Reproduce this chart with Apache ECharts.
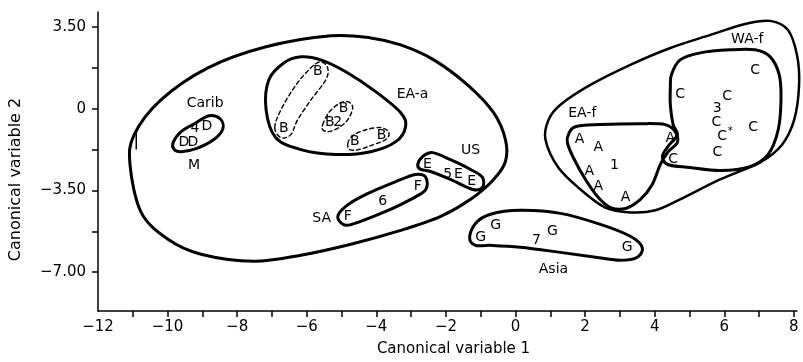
<!DOCTYPE html>
<html><head><meta charset="utf-8">
<script src="https://cdn.jsdelivr.net/npm/echarts@6/dist/echarts.min.js"></script>
<style>html,body{margin:0;padding:0;background:#fff}#c{width:803px;height:362px}</style>
</head><body><div id="c"></div>
<script>
// ---- tick values ----
const xTickValues = [-11,-10,-9,-8,-7,-6,-5,-4,-3,-2,-1,0,1,2,3,4,5,6,7,8];
const xLabelValues = [-12,-10,-8,-6,-4,-2,0,2,4,6,8];
const yTickValues = [3.5,1.75,0,-1.75,-3.5,-5.25,-7];
const yLabelValues = [3.5,0,-3.5,-7];
const yLabelText = {"3.5":"3.50","0":"0","-3.5":"\u22123.50","-7":"\u22127.00"};

// ---- observations (letters) ----
const pointsA = [[1.84,-1.32],[2.38,-1.66],[2.12,-2.69],[2.38,-3.33],[3.16,-3.80],[4.45,-1.28]];
const pointsB = [[-5.68,1.58],[-6.66,-0.85],[-4.94,0.00],[-5.34,-0.60],[-4.62,-1.41],[-3.85,-1.15]];
const pointsC = [[6.89,1.66],[4.73,0.60],[6.08,0.55],[5.77,-0.60],[5.94,-1.20],[6.83,-0.81],[5.80,-1.88],[4.53,-2.18]];
const pointsD = [[-8.87,-0.77],[-9.53,-1.45],[-9.27,-1.45]];
const pointsE = [[-2.53,-2.39],[-1.64,-2.82],[-1.26,-3.12]];
const pointsF = [[-2.81,-3.33],[-4.82,-4.61]];
const pointsG = [[-1.00,-5.51],[-0.57,-4.99],[1.06,-5.25],[3.21,-5.93]];
const asterisk = [[6.17,-0.98]];

// ---- group means (numbers) ----
const centroids = [[2.84,-2.43,'1'],[-5.11,-0.60,'2'],[5.80,0.00,'3'],[-9.21,-0.85,'4'],[-1.95,-2.82,'5'],[-3.82,-3.97,'6'],[0.60,-5.63,'7']];

// ---- group names ----
const groupNames = [[-8.92,0.21,'Carib'],[-9.24,-2.43,'M'],[-2.96,0.60,'EA-a'],[-1.29,-1.79,'US'],[-5.57,-4.69,'SA'],[1.09,-6.87,'Asia'],[1.92,-0.21,'EA-f'],[6.66,2.99,'WA-f']];

// ---- enclosing outlines (data units) ----
const outlineBig = [[-11.08,-2.39],[-10.96,-1.11],[-10.19,0.38],[-8.84,1.75],[-7.17,2.65],[-5.31,3.12],[-4.16,3.03],[-3.30,2.73],[-2.35,2.09],[-1.38,1.02],[-0.63,-0.17],[-0.29,-1.32],[-0.29,-2.26],[-0.63,-3.03],[-1.29,-3.88],[-2.15,-4.61],[-3.30,-5.21],[-4.73,-5.80],[-6.17,-6.27],[-7.52,-6.53],[-9.04,-6.23],[-9.99,-5.59],[-10.76,-4.44]];
const outlineCarib = [[-9.84,-1.45],[-9.61,-0.98],[-9.18,-0.60],[-8.81,-0.30],[-8.49,-0.43],[-8.41,-0.85],[-8.67,-1.32],[-9.18,-1.71],[-9.61,-1.84],[-9.81,-1.75]];
const outlineEAa = [[-7.17,-0.04],[-7.09,1.24],[-6.66,1.96],[-6.17,2.22],[-5.60,2.09],[-4.88,1.58],[-4.02,0.73],[-3.30,-0.17],[-3.16,-0.77],[-3.44,-1.41],[-4.16,-1.84],[-5.16,-1.96],[-6.17,-1.75],[-6.89,-1.24]];
const outlineB1 = [[-6.92,-0.81],[-6.74,-0.04],[-6.31,1.02],[-5.88,1.75],[-5.60,2.01],[-5.40,1.75],[-5.45,1.24],[-5.88,0.38],[-6.26,-0.47],[-6.46,-1.11],[-6.74,-1.24]];
const outlineB2 = [[-5.54,-0.68],[-5.37,-0.17],[-5.08,0.21],[-4.82,0.30],[-4.68,0.04],[-4.82,-0.47],[-5.08,-0.81],[-5.37,-0.98],[-5.54,-0.90]];
const outlineB3 = [[-4.82,-1.49],[-4.68,-1.15],[-4.30,-0.90],[-3.87,-0.81],[-3.64,-1.02],[-3.73,-1.32],[-4.16,-1.58],[-4.51,-1.75],[-4.76,-1.75]];
const outlineUS = [[-2.81,-2.39],[-2.67,-2.05],[-2.38,-1.88],[-1.87,-2.18],[-1.29,-2.60],[-0.95,-2.94],[-0.95,-3.37],[-1.23,-3.46],[-1.87,-3.03],[-2.44,-2.69],[-2.73,-2.60]];
const outlineSA = [[-5.11,-4.65],[-4.88,-4.18],[-4.30,-3.67],[-3.44,-3.12],[-2.87,-2.82],[-2.58,-2.94],[-2.58,-3.46],[-3.01,-3.88],[-3.73,-4.40],[-4.45,-4.82],[-4.88,-4.99]];
const outlineAsia = [[-1.32,-5.51],[-1.15,-4.91],[-0.72,-4.52],[0.14,-4.35],[1.29,-4.48],[2.44,-4.95],[3.30,-5.46],[3.64,-5.93],[3.50,-6.36],[3.01,-6.49],[2.30,-6.36],[1.29,-6.15],[0.14,-5.93],[-0.72,-5.85],[-1.15,-5.85]];
const outlineEAf = [[1.52,-1.11],[1.72,-0.77],[2.44,-0.68],[3.59,-0.64],[4.30,-0.68],[4.59,-0.98],[4.65,-1.45],[4.39,-1.84],[4.16,-2.39],[3.93,-3.24],[3.59,-3.88],[3.16,-4.27],[2.73,-4.23],[2.38,-3.80],[2.01,-3.03],[1.66,-2.09],[1.49,-1.45]];
const outlineWAf = [[4.48,1.45],[4.73,2.09],[5.31,2.39],[6.17,2.52],[6.89,2.52],[7.32,2.22],[7.58,1.45],[7.63,0.38],[7.55,-0.90],[7.26,-1.96],[6.74,-2.48],[5.88,-2.65],[5.02,-2.52],[4.40,-2.40],[4.22,-2.05],[4.38,-1.62],[4.65,-1.11],[4.53,-0.68],[4.45,0.17],[4.45,0.90]];
const outlineF = [[0.86,-1.32],[0.95,-0.47],[1.29,0.17],[2.15,1.02],[3.30,1.88],[4.45,2.60],[5.60,3.16],[6.60,3.63],[7.32,3.76],[7.83,3.37],[8.09,2.30],[8.15,1.02],[8.01,-0.47],[7.66,-1.54],[7.03,-2.30],[5.88,-3.03],[4.73,-3.88],[4.02,-4.35],[3.30,-4.44],[2.58,-4.23],[1.87,-3.46],[1.23,-2.52]];
const strayMark = [[-10.9,-0.9],[-10.9,-1.75]];

const FONT = 'DejaVu Sans';
const INK = '#000';

function closedPathData(pts) {
  const n = pts.length;
  let d = 'M' + pts[0][0] + ' ' + pts[0][1];
  for (let i = 0; i < n; i++) {
    const p0 = pts[(i - 1 + n) % n], p1 = pts[i], p2 = pts[(i + 1) % n], p3 = pts[(i + 2) % n];
    const c1 = [p1[0] + (p2[0] - p0[0]) / 6, p1[1] + (p2[1] - p0[1]) / 6];
    const c2 = [p2[0] - (p3[0] - p1[0]) / 6, p2[1] - (p3[1] - p1[1]) / 6];
    d += 'C' + c1[0] + ' ' + c1[1] + ' ' + c2[0] + ' ' + c2[1] + ' ' + p2[0] + ' ' + p2[1];
  }
  return d + 'Z';
}

function curveSeries(outline, width, dash) {
  return {
    type: 'custom', data: outline, silent: true, z: 3,
    renderItem: function (params, api) {
      if (params.dataIndex !== 0) return null;
      const px = outline.map(p => api.coord(p));
      return {
        type: 'path',
        shape: { pathData: closedPathData(px) },
        style: { fill: 'none', stroke: INK, lineWidth: width, lineDash: dash || null, lineCap: 'round', lineJoin: 'round' }
      };
    }
  };
}

function textSeries(pts, fmt, size) {
  return {
    type: 'scatter', data: pts, symbol: 'circle', symbolSize: 1, silent: true, z: 5,
    itemStyle: { color: 'rgba(0,0,0,0)', opacity: 1 },
    label: { show: true, position: 'inside', formatter: fmt, color: INK, opacity: 1, fontSize: size || 14, fontFamily: FONT },
    emphasis: { disabled: true }
  };
}

const chart = echarts.init(document.getElementById('c'), null, { renderer: 'canvas' });
chart.setOption({
  animation: false,
  backgroundColor: '#fff',
  grid: { left: 97, right: 6, top: 12, bottom: 50 },
  xAxis: {
    type: 'value', min: -12, max: 8.09,
    name: 'Canonical variable 1', nameLocation: 'middle', nameGap: 31,
    nameTextStyle: { fontFamily: FONT, fontSize: 15, color: INK, padding: [0, 0, 0, 12] },
    axisLine: { onZero: false, lineStyle: { color: INK, width: 1.5 } },
    axisTick: { show: true, length: 6, lineStyle: { color: INK, width: 1.5 }, customValues: xTickValues },
    axisLabel: { customValues: xLabelValues, margin: 9, fontFamily: FONT, fontSize: 15, color: INK,
      formatter: v => String(v).replace('-', '\u2212') },
    splitLine: { show: false }
  },
  yAxis: {
    type: 'value', min: -8.66, max: 4.14,
    name: 'Canonical variable 2', nameLocation: 'middle', nameGap: 74, nameRotate: 90,
    nameTextStyle: { fontFamily: FONT, fontSize: 16, color: INK, padding: [0, 36, 0, 0] },
    axisLine: { onZero: false, lineStyle: { color: INK, width: 1.5 } },
    axisTick: { show: true, length: 6, lineStyle: { color: INK, width: 1.5 }, customValues: yTickValues },
    axisLabel: { customValues: yLabelValues, margin: 12, fontFamily: FONT, fontSize: 15, color: INK,
      formatter: v => yLabelText[String(v)] !== undefined ? yLabelText[String(v)] : String(v) },
    splitLine: { show: false }
  },
  series: [
    curveSeries(outlineBig, 3),
    curveSeries(outlineCarib, 3),
    curveSeries(outlineEAa, 3),
    curveSeries(outlineB1, 1.4, [4, 3]),
    curveSeries(outlineB2, 1.4, [4, 3]),
    curveSeries(outlineB3, 1.4, [4, 3]),
    curveSeries(outlineUS, 3),
    curveSeries(outlineSA, 3),
    curveSeries(outlineAsia, 3),
    curveSeries(outlineEAf, 3),
    curveSeries(outlineWAf, 3),
    curveSeries(outlineF, 2.5),
    { type: 'line', data: strayMark, symbol: 'none', silent: true, lineStyle: { color: INK, width: 1.5 } },
    textSeries(pointsA, 'A'),
    textSeries(pointsB, 'B'),
    textSeries(pointsC, 'C'),
    textSeries(pointsD, 'D'),
    textSeries(pointsE, 'E'),
    textSeries(pointsF, 'F'),
    textSeries(pointsG, 'G'),
    textSeries(asterisk, '*', 10),
    textSeries(centroids, p => p.data[2]),
    textSeries(groupNames, p => p.data[2])
  ]
});
</script></body></html>
